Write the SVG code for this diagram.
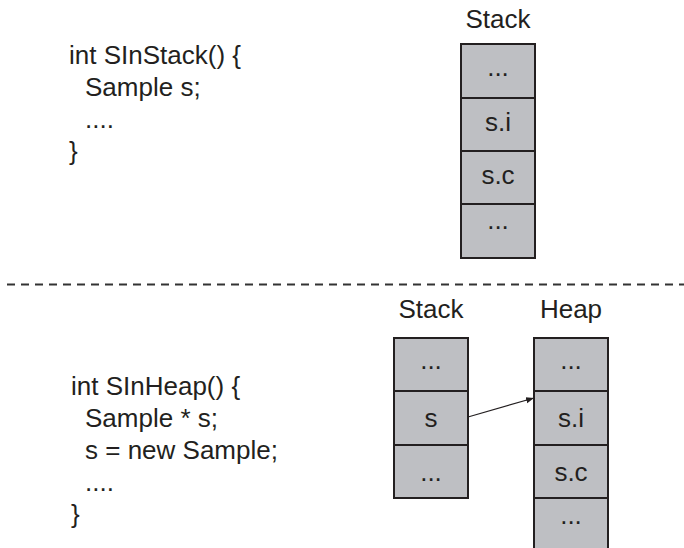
<svg xmlns="http://www.w3.org/2000/svg" width="684" height="548" viewBox="0 0 684 548">
  <style>
    text { font-family: "Liberation Sans", Arial, Helvetica, sans-serif; font-size: 26px; fill: #231f20; }
    .mid { text-anchor: middle; }
    .cell { fill: #bebfc3; stroke: #231f20; stroke-width: 2; }
    .sep { stroke: #333; stroke-width: 2; stroke-dasharray: 8 6; fill: none; }
    .link { stroke: #231f20; stroke-width: 1.2; fill: none; }
  </style>
  <defs>
    <marker id="arrow" viewBox="0 0 10 10" refX="10" refY="5" markerWidth="8" markerHeight="8" markerUnits="userSpaceOnUse" orient="auto">
      <path d="M0,1 L10,5 L0,9 Z" fill="#231f20"/>
    </marker>
  </defs>
  <rect width="684" height="548" fill="#ffffff"/>

  <!-- upper half: object on the stack -->
  <g id="code-stack">
    <text x="69" y="64">int SInStack() {</text>
    <text x="85" y="96">Sample s;</text>
    <text x="85" y="128">....</text>
    <text x="69" y="160">}</text>
  </g>
  <g id="stack1">
    <text class="mid" x="498" y="28">Stack</text>
    <rect class="cell" x="461" y="44" width="74" height="54"/>
    <rect class="cell" x="461" y="98" width="74" height="53"/>
    <rect class="cell" x="461" y="151" width="74" height="53"/>
    <rect class="cell" x="461" y="204" width="74" height="54"/>
    <text class="mid" x="498" y="76">...</text>
    <text class="mid" x="498" y="131">s.i</text>
    <text class="mid" x="498" y="184">s.c</text>
    <text class="mid" x="498" y="229">...</text>
  </g>

  <line class="sep" x1="7" y1="284.5" x2="684" y2="284.5"/>

  <!-- lower half: object on the heap -->
  <g id="code-heap">
    <text x="71" y="395">int SInHeap() {</text>
    <text x="85" y="427">Sample * s;</text>
    <text x="85" y="459">s = new Sample;</text>
    <text x="85" y="491">....</text>
    <text x="71" y="523">}</text>
  </g>
  <g id="stack2">
    <text class="mid" x="431" y="318">Stack</text>
    <rect class="cell" x="394" y="338" width="74" height="53"/>
    <rect class="cell" x="394" y="391" width="74" height="54"/>
    <rect class="cell" x="394" y="445" width="74" height="53"/>
    <text class="mid" x="431" y="369">...</text>
    <text class="mid" x="431" y="427">s</text>
    <text class="mid" x="431" y="481">...</text>
  </g>
  <g id="heap">
    <text class="mid" x="571" y="318">Heap</text>
    <rect class="cell" x="534" y="338" width="74" height="53"/>
    <rect class="cell" x="534" y="391" width="74" height="54"/>
    <rect class="cell" x="534" y="445" width="74" height="53"/>
    <rect class="cell" x="534" y="498" width="74" height="60"/>
    <text class="mid" x="571" y="369">...</text>
    <text class="mid" x="571" y="427">s.i</text>
    <text class="mid" x="571" y="481">s.c</text>
    <text class="mid" x="571" y="524">...</text>
  </g>

  <g id="connectors">
    <line class="link" x1="468" y1="417" x2="534" y2="398" marker-end="url(#arrow)"/>
  </g>
</svg>
